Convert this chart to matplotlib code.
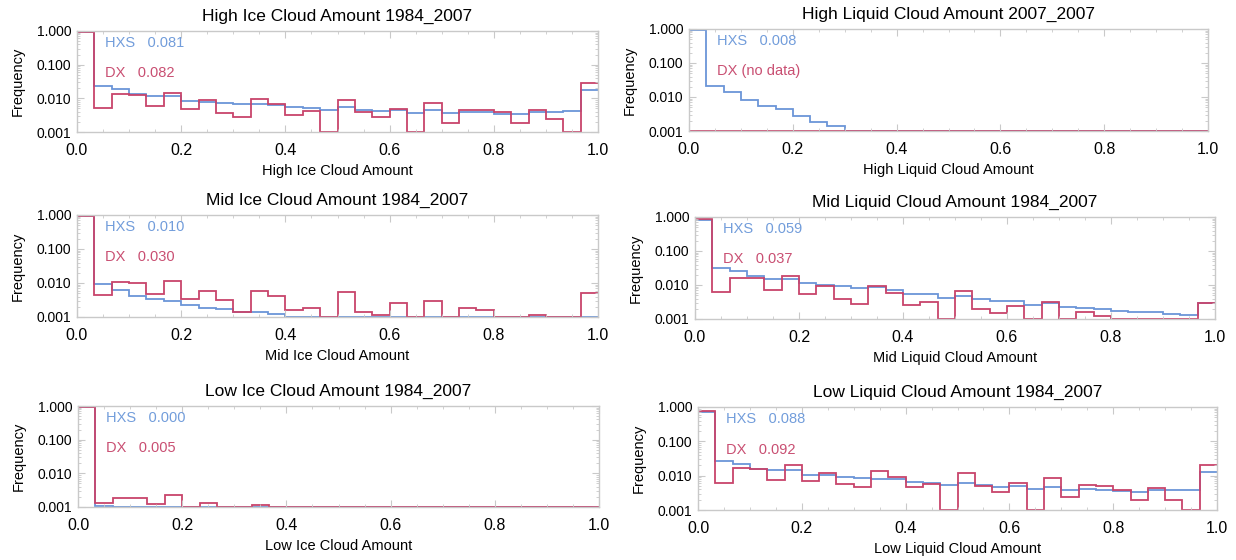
"""
HXS vs DX cloud-amount frequency histograms, six panels on a log axis
"""
import numpy as np
import matplotlib
matplotlib.use('Agg')
import matplotlib.pyplot as plt
from matplotlib.ticker import FixedLocator, FormatStrFormatter, LogLocator, NullFormatter

plt.rcParams['font.family'] = ['Liberation Sans', 'DejaVu Sans']

BLUE = '#6b95d8'
RED = '#c8446b'
BLUE_TXT = '#729ddb'
RED_TXT = '#c94f72'
FRAME = '#c9c9c9'
Y_MIN, Y_MAX = 0.001, 1.0
W, H = 1236, 560

N_BINS = 30
EDGES = np.linspace(0.0, 1.0, N_BINS + 1)

# frequency per bin of cloud amount, 0 means empty bin
HIGH_ICE_HXS = [0.93, 0.024, 0.0189, 0.013, 0.0116, 0.0116, 0.0086, 0.0080, 0.0072, 0.0067,
                0.0067, 0.0064, 0.0054, 0.0052, 0.0045, 0.0055, 0.0046, 0.0042, 0.0046, 0.0036,
                0.0044, 0.0036, 0.0040, 0.0038, 0.0035, 0.0035, 0.0040, 0.0038, 0.0043, 0.0173]
HIGH_ICE_DX = [0.95, 0.0052, 0.0130, 0.0122, 0.0060, 0.0148, 0.0049, 0.0088, 0.0037, 0.0028,
               0.0098, 0.0067, 0.0033, 0.0042, 0.0, 0.0088, 0.0039, 0.0027, 0.0049, 0.0,
               0.0075, 0.0019, 0.0046, 0.0044, 0.0039, 0.0019, 0.0046, 0.0025, 0.0, 0.029]

HIGH_LIQ_HXS = [0.95, 0.0214, 0.0138, 0.0082, 0.0055, 0.0044, 0.0027, 0.0019, 0.0014, 0.0,
                0.0, 0.0, 0.0, 0.0, 0.0, 0.0, 0.0, 0.0, 0.0, 0.0,
                0.0, 0.0, 0.0, 0.0, 0.0, 0.0, 0.0, 0.0, 0.0, 0.0]
HIGH_LIQ_DX = [0.0] * N_BINS  # no DX data for this class

MID_ICE_HXS = [0.95, 0.0096, 0.0063, 0.0042, 0.0033, 0.0029, 0.0022, 0.0019, 0.0017, 0.00145,
               0.0014, 0.0012, 0.0, 0.0, 0.0, 0.0, 0.0, 0.0, 0.0, 0.0,
               0.0, 0.0, 0.0, 0.0, 0.0, 0.0, 0.0, 0.0, 0.0, 0.0]
MID_ICE_DX = [0.96, 0.0045, 0.0109, 0.0102, 0.0048, 0.0111, 0.0033, 0.0060, 0.0031, 0.00136,
              0.0060, 0.0041, 0.0016, 0.0018, 0.0, 0.0053, 0.00136, 0.00115, 0.0025, 0.0,
              0.0029, 0.0, 0.0019, 0.00166, 0.0, 0.0, 0.00115, 0.0, 0.0, 0.0050]

MID_LIQ_HXS = [0.80, 0.031, 0.025, 0.019, 0.0152, 0.0152, 0.0114, 0.0100, 0.0092, 0.0082,
               0.0088, 0.0070, 0.0056, 0.0053, 0.0042, 0.0049, 0.0039, 0.0033, 0.0035, 0.0026,
               0.0029, 0.0023, 0.0021, 0.0020, 0.0017, 0.00156, 0.00156, 0.0014, 0.0013, 0.0029]
MID_LIQ_DX = [0.88, 0.0061, 0.0166, 0.0159, 0.0070, 0.0178, 0.0056, 0.0095, 0.0039, 0.0028,
              0.0095, 0.0059, 0.0026, 0.0032, 0.0, 0.0066, 0.0020, 0.00146, 0.0024, 0.0,
              0.0032, 0.0, 0.0016, 0.00125, 0.0, 0.0, 0.0, 0.0, 0.0, 0.0030]

LOW_ICE_HXS = [0.95, 0.0011, 0.0, 0.0, 0.0, 0.0, 0.0, 0.0, 0.0, 0.0,
               0.0, 0.0, 0.0, 0.0, 0.0, 0.0, 0.0, 0.0, 0.0, 0.0,
               0.0, 0.0, 0.0, 0.0, 0.0, 0.0, 0.0, 0.0, 0.0, 0.0]
LOW_ICE_DX = [0.96, 0.0013, 0.0019, 0.0018, 0.00122, 0.0022, 0.0, 0.0013, 0.0, 0.0,
              0.00115, 0.0, 0.0, 0.0, 0.0, 0.0, 0.0, 0.0, 0.0, 0.0,
              0.0, 0.0, 0.0, 0.0, 0.0, 0.0, 0.0, 0.0, 0.0, 0.0]

LOW_LIQ_HXS = [0.70, 0.027, 0.022, 0.016, 0.0144, 0.0144, 0.0108, 0.0103, 0.0091, 0.0084,
               0.0082, 0.0079, 0.0066, 0.0060, 0.0052, 0.0063, 0.0054, 0.0046, 0.0051, 0.0040,
               0.0048, 0.0038, 0.0041, 0.0039, 0.0035, 0.0033, 0.0037, 0.0037, 0.0039, 0.0126]
LOW_LIQ_DX = [0.76, 0.0063, 0.0167, 0.0153, 0.0077, 0.0203, 0.0070, 0.0121, 0.0059, 0.0046,
              0.0135, 0.0093, 0.0046, 0.0059, 0.0, 0.0121, 0.0050, 0.0034, 0.0062, 0.0,
              0.0085, 0.0024, 0.0054, 0.0051, 0.0037, 0.0020, 0.0044, 0.0019, 0.0, 0.0207]

TITLES = ['High Ice Cloud Amount 1984_2007', 'High Liquid Cloud Amount 2007_2007',
          'Mid Ice Cloud Amount 1984_2007', 'Mid Liquid Cloud Amount 1984_2007',
          'Low Ice Cloud Amount 1984_2007', 'Low Liquid Cloud Amount 1984_2007']
XLABELS = ['High Ice Cloud Amount', 'High Liquid Cloud Amount',
           'Mid Ice Cloud Amount', 'Mid Liquid Cloud Amount',
           'Low Ice Cloud Amount', 'Low Liquid Cloud Amount']
HXS_TEXT = ['HXS   0.081', 'HXS   0.008', 'HXS   0.010', 'HXS   0.059', 'HXS   0.000', 'HXS   0.088']
DX_TEXT = ['DX   0.082', 'DX (no data)', 'DX   0.030', 'DX   0.037', 'DX   0.005', 'DX   0.092']
HXS_SERIES = [HIGH_ICE_HXS, HIGH_LIQ_HXS, MID_ICE_HXS, MID_LIQ_HXS, LOW_ICE_HXS, LOW_LIQ_HXS]
DX_SERIES = [HIGH_ICE_DX, HIGH_LIQ_DX, MID_ICE_DX, MID_LIQ_DX, LOW_ICE_DX, LOW_LIQ_DX]

# axes boxes in pixels: left, top, right, bottom
BOXES = [(77, 31, 598, 132), (689, 29, 1208, 131),
         (77, 215, 598, 317), (695, 217, 1215, 319),
         (78, 406, 599, 507), (698, 407, 1217, 510)]


def px_box(box):
    l, t, r, b = box
    return [l / W, 1 - b / H, (r - l) / W, (b - t) / H]


def style_axes(ax):
    ax.set_xlim(0, 1)
    ax.set_yscale('log')
    ax.set_ylim(Y_MIN, Y_MAX)
    for sp in ax.spines.values():
        sp.set_color(FRAME)
        sp.set_linewidth(1.0)
    ax.xaxis.set_major_locator(FixedLocator([0.0, 0.2, 0.4, 0.6, 0.8, 1.0]))
    ax.xaxis.set_minor_locator(FixedLocator(np.arange(0.05, 1.0, 0.05)))
    ax.xaxis.set_major_formatter(FormatStrFormatter('%.1f'))
    ax.yaxis.set_major_locator(FixedLocator([0.001, 0.01, 0.1, 1.0]))
    ax.yaxis.set_minor_locator(LogLocator(base=10, subs=np.arange(2, 10)))
    ax.yaxis.set_major_formatter(FormatStrFormatter('%.3f'))
    ax.yaxis.set_minor_formatter(NullFormatter())
    ax.tick_params(which='both', direction='in', top=True, right=True, color=FRAME)
    ax.tick_params(which='major', length=5)
    ax.tick_params(which='minor', length=2.5)
    ax.tick_params(axis='x', which='major', labelsize=11.5, pad=8)
    ax.tick_params(axis='y', which='major', labelsize=10, pad=4)


fig = plt.figure(figsize=(W / 100, H / 100), dpi=100)

for i in range(6):
    ax = fig.add_axes(px_box(BOXES[i]))
    style_axes(ax)
    hxs = np.array(HXS_SERIES[i])
    dx = np.array(DX_SERIES[i])
    # empty bins sit on the floor of the axis
    ax.stairs(np.where(hxs > 0, hxs, Y_MIN), EDGES, baseline=None, color=BLUE, lw=1.3)
    ax.stairs(np.where(dx > 0, dx, Y_MIN), EDGES, baseline=None, color=RED, lw=1.3)
    ax.text(0.053, 0.88, HXS_TEXT[i], transform=ax.transAxes, color=BLUE_TXT,
            fontsize=10.5, va='center', ha='left')
    ax.text(0.053, 0.585, DX_TEXT[i], transform=ax.transAxes, color=RED_TXT,
            fontsize=10.5, va='center', ha='left')
    ax.set_title(TITLES[i], fontsize=12.5, pad=7)
    ax.set_xlabel(XLABELS[i], fontsize=10.5, labelpad=4)
    ax.set_ylabel('Frequency', fontsize=10.5)
    ax.yaxis.set_label_coords(-0.1, 0.5)

fig.savefig('out.png', dpi=100)
